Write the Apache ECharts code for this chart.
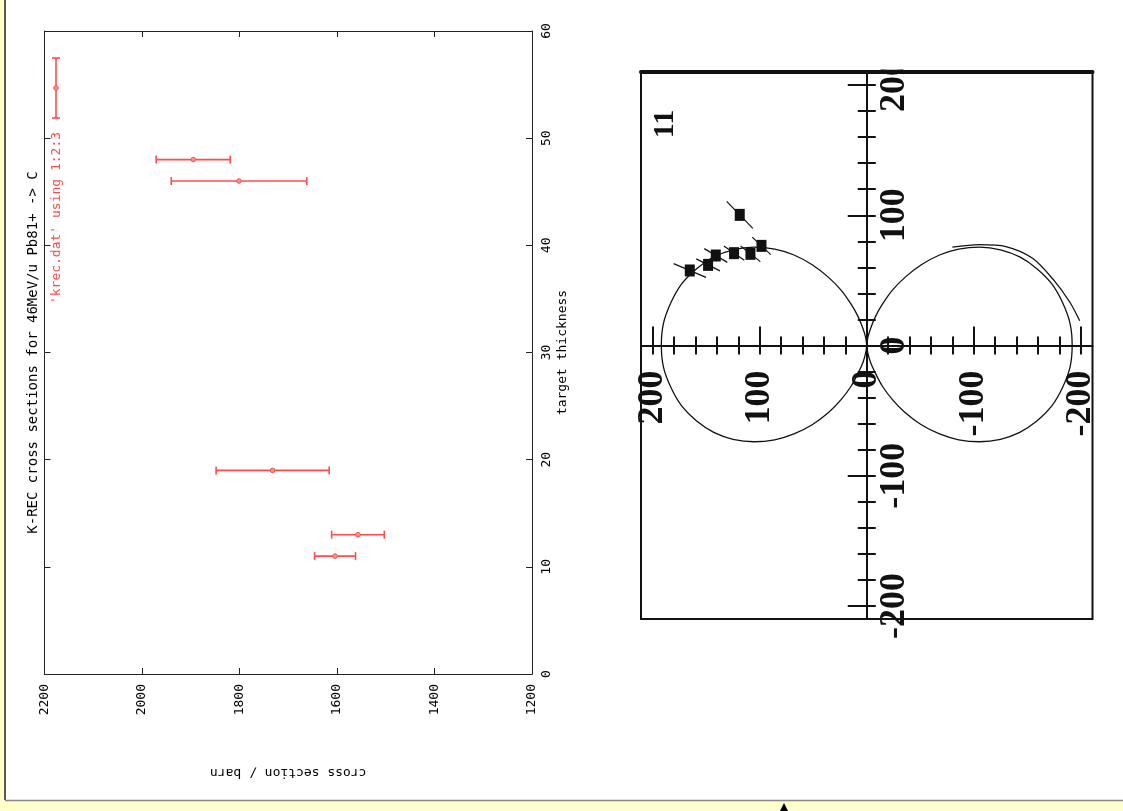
<!DOCTYPE html>
<html>
<head>
<meta charset="utf-8">
<script src="https://cdn.jsdelivr.net/npm/echarts@6/dist/echarts.min.js"></script>
<style>
  html, body { margin: 0; padding: 0; background: #ffffcc; }
  #chart { width: 1123px; height: 811px; }
</style>
</head>
<body>
<div id="chart"></div>
<script>
// ---- K-REC cross sections vs. target thickness (gnuplot style, landscape) ----
const thickness = [48, 46, 19, 13, 11];
const crossSection = [1895, 1801, 1732, 1557, 1604];
const crossSectionErr = [76, 139, 116, 54, 42];
const titleText = 'K-REC cross sections for 46MeV/u Pb81+ -> C';
const keyText = "'krec.dat' using 1:2:3";
const xName = 'cross section / barn';
const yName = 'target thickness';

// ---- polar angular distribution panel ----
const panelLabel = '11';
const polarMinorTicks = [-200, -180, -160, -140, -120, -100, -80, -60, -40, -20, 0,
                         20, 40, 60, 80, 100, 120, 140, 160, 180, 200];
const polarMajorTicks = [-200, -100, 0, 100, 200];
const leftLobe = [[0, 0], [1, 6], [3.3, 12.5], [8, 22], [14.5, 31.5], [24, 42.5], [36, 52.5],
                  [51, 62], [68, 69.5], [86, 74], [105.5, 75.5], [125, 73.5], [143, 68],
                  [159, 59], [173, 47.3], [183, 33], [190, 17], [192, 0],
                  [190, -16.6], [183, -32.3], [173, -46.4], [159, -58], [143, -66.7],
                  [125, -72], [105.5, -73.9], [86, -72.4], [68, -67.9], [51, -60.8],
                  [36, -51.7], [24, -41.6], [14.5, -31.1], [8, -21.1], [3.3, -12.4],
                  [1, -5.7], [0, 0]];
const rightLobe = [[0, 0], [-1, 6], [-3.3, 12.5], [-8, 22], [-14.5, 31.5], [-24, 42.5], [-36, 52.5],
                   [-51, 62], [-68, 69.5], [-86, 74], [-105.5, 75.5], [-125, 73.5], [-143, 68],
                   [-159, 59], [-173, 47.3], [-183, 33], [-190, 17], [-192, 0],
                   [-190, -16.6], [-183, -32.3], [-173, -46.4], [-159, -58], [-143, -66.7],
                   [-125, -72], [-105.5, -73.9], [-86, -72.4], [-68, -67.9], [-51, -60.8],
                   [-36, -51.7], [-24, -41.6], [-14.5, -31.1], [-8, -21.1], [-3.3, -12.4],
                   [-1, -5.7], [0, 0]];
const rightLobeOuter = [[-80, 75.5], [-105, 77.5], [-130, 76], [-155, 67], [-175, 50],
                        [-190, 33], [-199, 19]];
const measX = [165.4, 148.3, 141.1, 124.0, 108.7, 98.4, 118.7];
const measY = [57.6, 61.9, 69.1, 70.9, 70.4, 76.5, 100.3];
const measErr = [16, 12, 12, 11, 11, 11, 16];

const MONO = '"DejaVu Sans Mono", monospace';
const SERIF = '"Liberation Serif", "Times New Roman", serif';
const RED = '#ff4d4d';
const INK = '#111';
const plain = function (v) { return String(v); };

const chart = echarts.init(document.getElementById('chart'), null, { renderer: 'canvas' });

const errData = crossSection.map((c, i) => [c, thickness[i], crossSectionErr[i]]);
const measData = measX.map((x, i) => [x, measY[i], measErr[i]]);

// helpers for the axes of the left (gnuplot) plot
function gpX(position, withLabels) {
  return {
    gridIndex: 0, type: 'value', min: 1200, max: 2200, interval: 200, inverse: true,
    position: position,
    axisLine: { show: true, onZero: false, lineStyle: { color: '#222', width: 1 } },
    axisTick: { show: true, inside: true, length: 6, lineStyle: { color: '#222' } },
    axisLabel: withLabels ? {
      show: true, rotate: 90, margin: 10, color: '#000', fontFamily: MONO, fontSize: 13,
      showMinLabel: true, showMaxLabel: true, formatter: plain
    } : { show: false },
    splitLine: { show: false },
    name: withLabels ? xName : '', nameLocation: 'middle', nameGap: 92, nameRotate: 180,
    nameMoveOverlap: false,
    nameTextStyle: { color: '#000', fontFamily: MONO, fontSize: 13 }
  };
}
function gpY(position, withLabels) {
  return {
    gridIndex: 0, type: 'value', min: 0, max: 60, interval: 10,
    position: position,
    axisLine: { show: true, onZero: false, lineStyle: { color: '#222', width: 1 } },
    axisTick: { show: true, inside: true, length: 6, lineStyle: { color: '#222' } },
    axisLabel: withLabels ? {
      show: true, rotate: 90, margin: 8, color: '#000', fontFamily: MONO, fontSize: 13,
      showMinLabel: true, showMaxLabel: true, formatter: plain
    } : { show: false },
    splitLine: { show: false },
    name: withLabels ? yName : '', nameLocation: 'middle', nameGap: 24, nameRotate: 90,
    nameMoveOverlap: false,
    nameTextStyle: { color: '#000', fontFamily: MONO, fontSize: 13 }
  };
}

// helpers for the crossing axes of the polar panel
const polarLabelStyle = { color: INK, fontFamily: SERIF, fontSize: 36, fontWeight: 'bold',
                          formatter: plain };
function plX(opts) {
  return Object.assign({
    gridIndex: 1, type: 'value', min: -211, max: 211, inverse: true, position: 'bottom',
    axisLine: { show: false, onZero: true, onZeroAxisIndex: 2 },
    axisTick: { show: false },
    axisLabel: { show: false },
    splitLine: { show: false }
  }, opts);
}
function plY(opts) {
  return Object.assign({
    gridIndex: 1, type: 'value', min: -210, max: 210, position: 'right',
    axisLine: { show: false, onZero: true, onZeroAxisIndex: 2 },
    axisTick: { show: false },
    axisLabel: { show: false },
    splitLine: { show: false }
  }, opts);
}

const option = {
  backgroundColor: '#ffffcc',
  animation: false,
  grid: [
    { left: 44.5, top: 31, width: 487.5, height: 643, show: false,
      containLabel: false, outerBoundsMode: 'none' },
    { left: 641, top: 72, width: 451.5, height: 547, show: true,
      borderColor: INK, borderWidth: 2, backgroundColor: 'transparent',
      containLabel: false, outerBoundsMode: 'none' }
  ],
  xAxis: [
    gpX('bottom', true),
    gpX('top', false),
    plX({
      axisLine: { show: true, onZero: true, onZeroAxisIndex: 2, lineStyle: { color: INK, width: 2 } },
      axisTick: { show: true, inside: false, length: 9, customValues: polarMinorTicks,
                  lineStyle: { color: INK, width: 2 } },
      // labels hang below the zero line
      axisLabel: Object.assign({ show: true, rotate: 90, margin: -248.5,
                                 customValues: polarMajorTicks }, polarLabelStyle)
    }),
    plX({
      axisTick: { show: true, inside: true, length: 9, customValues: polarMinorTicks,
                  lineStyle: { color: INK, width: 2 } }
    }),
    plX({
      axisTick: { show: true, inside: true, length: 19, customValues: polarMajorTicks,
                  lineStyle: { color: INK, width: 2 } }
    }),
    plX({
      position: 'top',
      axisLine: { show: true, onZero: false, lineStyle: { color: INK, width: 4 } }
    })
  ],
  yAxis: [
    gpY('right', true),
    gpY('left', false),
    plY({
      axisLine: { show: true, onZero: true, onZeroAxisIndex: 2, lineStyle: { color: INK, width: 2 } },
      axisTick: { show: true, inside: false, length: 9, customValues: polarMinorTicks,
                  lineStyle: { color: INK, width: 2 } },
      // labels sit just right of the zero line
      axisLabel: Object.assign({ show: true, rotate: 90, margin: -215.5,
                                 customValues: polarMajorTicks }, polarLabelStyle)
    }),
    plY({
      axisTick: { show: true, inside: true, length: 9, customValues: polarMinorTicks,
                  lineStyle: { color: INK, width: 2 } }
    }),
    plY({
      axisTick: { show: true, inside: true, length: 19, customValues: polarMajorTicks,
                  lineStyle: { color: INK, width: 2 } }
    })
  ],
  series: [
    {
      // horizontal error bars with end caps and a small centre marker
      type: 'custom', name: keyText, xAxisIndex: 0, yAxisIndex: 0,
      coordinateSystem: 'cartesian2d', encode: { x: 0, y: 1 },
      data: errData,
      renderItem: function (params, api) {
        const c = api.value(0), t = api.value(1), e = api.value(2);
        const lo = api.coord([c - e, t]);
        const hi = api.coord([c + e, t]);
        const mid = api.coord([c, t]);
        const st = { stroke: RED, lineWidth: 1.6, fill: null };
        return {
          type: 'group',
          children: [
            { type: 'line', shape: { x1: lo[0], y1: lo[1], x2: hi[0], y2: hi[1] }, style: st },
            { type: 'line', shape: { x1: lo[0], y1: lo[1] - 4, x2: lo[0], y2: lo[1] + 4 }, style: st },
            { type: 'line', shape: { x1: hi[0], y1: hi[1] - 4, x2: hi[0], y2: hi[1] + 4 }, style: st },
            { type: 'circle', shape: { cx: mid[0], cy: mid[1], r: 2.3 },
              style: { fill: '#ff9090', stroke: RED, lineWidth: 1 } }
          ]
        };
      }
    },
    {
      type: 'line', xAxisIndex: 2, yAxisIndex: 2, data: leftLobe, smooth: 0.3,
      showSymbol: false, lineStyle: { color: INK, width: 1.3 }, z: 3
    },
    {
      type: 'line', xAxisIndex: 2, yAxisIndex: 2, data: rightLobe, smooth: 0.3,
      showSymbol: false, lineStyle: { color: INK, width: 1.3 }, z: 3
    },
    {
      type: 'line', xAxisIndex: 2, yAxisIndex: 2, data: rightLobeOuter, smooth: 0.3,
      showSymbol: false, lineStyle: { color: INK, width: 1.3 }, z: 3
    },
    {
      // radial error bars of the measured points
      type: 'custom', xAxisIndex: 2, yAxisIndex: 2, coordinateSystem: 'cartesian2d',
      encode: { x: 0, y: 1 }, data: measData, z: 4,
      renderItem: function (params, api) {
        const x = api.value(0), y = api.value(1), e = api.value(2);
        const r = Math.sqrt(x * x + y * y);
        const p0 = api.coord([x * (1 - e / r), y * (1 - e / r)]);
        const p1 = api.coord([x * (1 + e / r), y * (1 + e / r)]);
        return {
          type: 'line', shape: { x1: p0[0], y1: p0[1], x2: p1[0], y2: p1[1] },
          style: { stroke: INK, lineWidth: 1.2 }
        };
      }
    },
    {
      type: 'scatter', xAxisIndex: 2, yAxisIndex: 2, data: measData,
      symbol: 'rect', symbolSize: [10, 12], itemStyle: { color: INK, opacity: 1 }, z: 5
    }
  ],
  graphic: [
    { type: 'rect', z: -100, silent: true,
      shape: { x: 5, y: 0, width: 1118, height: 800 }, style: { fill: '#ffffff' } },
    { type: 'line', z: -90, silent: true,
      shape: { x1: 5, y1: 0, x2: 5, y2: 800 }, style: { stroke: '#222', lineWidth: 1.5 } },
    { type: 'line', z: -90, silent: true,
      shape: { x1: 5, y1: 800.5, x2: 1123, y2: 800.5 }, style: { stroke: '#888', lineWidth: 1.5 } },
    { type: 'polygon', z: -90, silent: true,
      shape: { points: [[780, 811], [784, 803], [788, 811]] }, style: { fill: '#000' } },
    // plot title and key, turned with the page
    { type: 'text', x: 33, y: 352.5, rotation: Math.PI / 2, silent: true,
      style: { text: titleText, fill: '#000', font: '14px ' + MONO,
               align: 'center', verticalAlign: 'middle',
               textAlign: 'center', textVerticalAlign: 'middle' } },
    { type: 'text', x: 57, y: 218, rotation: Math.PI / 2, silent: true,
      style: { text: keyText, fill: RED, font: '13px ' + MONO,
               align: 'center', verticalAlign: 'middle',
               textAlign: 'center', textVerticalAlign: 'middle' } },
    { type: 'group', silent: true, children: [
      { type: 'line', shape: { x1: 56, y1: 58, x2: 56, y2: 118 }, style: { stroke: RED, lineWidth: 1.6 } },
      { type: 'line', shape: { x1: 52, y1: 58, x2: 60, y2: 58 }, style: { stroke: RED, lineWidth: 1.6 } },
      { type: 'line', shape: { x1: 52, y1: 118, x2: 60, y2: 118 }, style: { stroke: RED, lineWidth: 1.6 } },
      { type: 'circle', shape: { cx: 56, cy: 88, r: 2.3 }, style: { fill: '#ff9090', stroke: RED, lineWidth: 1 } }
    ] },
    // panel number of the polar plot
    { type: 'text', x: 665, y: 124, rotation: Math.PI / 2, silent: true,
      style: { text: panelLabel, fill: INK, font: 'bold 30px ' + SERIF,
               align: 'center', verticalAlign: 'middle',
               textAlign: 'center', textVerticalAlign: 'middle' } },
    // page area above the polar frame
    { type: 'rect', z: 100, silent: true,
      shape: { x: 870, y: 36, width: 44, height: 33.5 }, style: { fill: '#ffffff' } }
  ]
};

chart.setOption(option);
</script>
</body>
</html>
